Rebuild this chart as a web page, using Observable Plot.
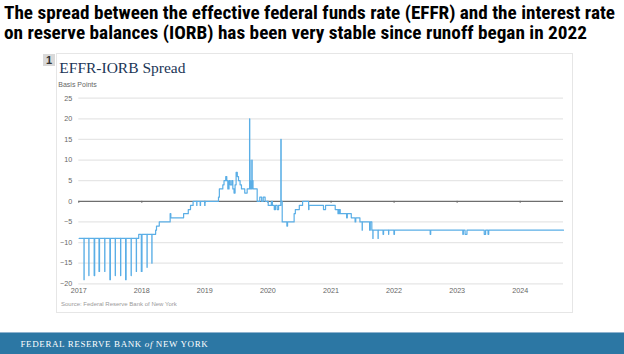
<!DOCTYPE html>
<html><head><meta charset="utf-8">
<script src="https://cdn.jsdelivr.net/npm/d3@7"></script>
<script src="https://cdn.jsdelivr.net/npm/@observablehq/plot@0.6"></script>
<style>
html,body{margin:0;padding:0;background:#fff;}
#wrap{position:relative;width:624px;height:354px;overflow:hidden;}
#chart,#overlay{position:absolute;left:0;top:0;}
</style></head><body>
<div id="wrap">
<div id="chart"></div>
<svg id="overlay" width="624" height="354" xmlns="http://www.w3.org/2000/svg">
  <rect x="56.5" y="53.5" width="516" height="259" fill="none" stroke="#e6e6e6"/>
  <rect x="43" y="54" width="12" height="12" fill="#d9d9d9"/>
  <text x="49" y="64" text-anchor="middle" font-family="Arial, Liberation Sans" font-weight="bold" font-size="11" fill="#333">1</text>
  <text x="4" y="19" font-family="'Liberation Sans Narrow', 'Roboto Condensed', Roboto" font-weight="bold" font-size="18" fill="#000" textLength="611" lengthAdjust="spacingAndGlyphs">The spread between the effective federal funds rate (EFFR) and the interest rate</text>
  <text x="4" y="39.4" font-family="'Liberation Sans Narrow', 'Roboto Condensed', Roboto" font-weight="bold" font-size="18" fill="#000" textLength="583" lengthAdjust="spacingAndGlyphs">on reserve balances (IORB) has been very stable since runoff began in 2022</text>
  <text x="59.3" y="73.3" font-family="Liberation Serif" font-size="15.5" fill="#1b3556">EFFR-IORB Spread</text>
  <text x="58.3" y="87" font-family="Arial, Liberation Sans" font-size="7" fill="#666">Basis Points</text>
  <text x="61" y="306" font-family="Arial, Liberation Sans" font-size="6" fill="#9a9a9a">Source: Federal Reserve Bank of New York</text>
  <rect x="0" y="332" width="624" height="22" fill="#2c77a4"/>
  <rect x="0" y="332" width="624" height="1" fill="#8fb3cf"/>
  <text x="20.5" y="347" font-family="Liberation Serif" font-size="9" fill="#fff" letter-spacing="0.6">FEDERAL RESERVE BANK <tspan font-style="italic">of</tspan> NEW YORK</text>
</svg>
</div>
<script>
// EFFR - IORB spread, basis points (change points; step chart)
const dates = [
  "2017-01-03","2017-01-31","2017-02-01","2017-02-28","2017-03-01","2017-03-31","2017-04-03",
  "2017-04-28","2017-05-01","2017-05-31","2017-06-01","2017-06-30","2017-07-03","2017-07-31",
  "2017-08-01","2017-08-31","2017-09-01","2017-09-29","2017-10-02","2017-10-31","2017-11-01",
  "2017-11-30","2017-12-01","2017-12-14","2017-12-29","2018-01-02","2018-01-31","2018-02-01",
  "2018-02-28","2018-03-01","2018-03-22","2018-03-27","2018-04-12","2018-06-14","2018-06-18",
  "2018-08-31","2018-09-27","2018-10-10","2018-10-25","2018-11-15","2018-11-16","2018-12-05",
  "2018-12-07","2018-12-31","2019-01-02",
  "2019-03-21","2019-03-26","2019-04-15","2019-04-22","2019-05-02","2019-05-08","2019-05-14",
  "2019-05-21","2019-05-28","2019-06-06","2019-06-12","2019-06-19","2019-06-25","2019-07-01",
  "2019-07-08","2019-07-15","2019-07-24","2019-08-01","2019-08-20","2019-09-03","2019-09-17",
  "2019-09-18","2019-09-20","2019-09-23","2019-09-30","2019-10-02","2019-10-07","2019-10-31",
  "2019-11-15","2019-11-26","2019-12-05","2019-12-16",
  "2020-01-03","2020-01-21","2020-01-27","2020-02-07","2020-02-14","2020-02-24","2020-03-03",
  "2020-03-16","2020-03-18","2020-03-24","2020-04-20","2020-04-24","2020-06-01","2020-06-08",
  "2020-07-01","2020-07-20","2020-08-24","2020-08-26","2020-11-18","2020-11-30",
  "2021-01-25","2021-02-10","2021-02-12","2021-02-16","2021-02-19","2021-02-23","2021-04-01",
  "2021-04-05","2021-04-28","2021-05-20","2021-05-24","2021-06-17","2021-06-30","2021-07-01",
  "2021-08-12","2021-08-16","2021-08-25","2021-08-31","2021-09-01","2021-09-30","2021-10-01",
  "2021-10-29","2021-11-01","2021-11-30","2021-12-01","2021-12-31","2022-01-03",
  "2022-07-29","2022-08-01","2023-02-03","2023-02-06","2023-02-16","2023-02-27",
  "2023-06-07","2023-06-15","2023-06-29","2023-07-03","2024-09-08"
];
const spread = [
  -9,-19,-9,-18,-9,-18,-9,
  -17,-9,-17,-9,-19,-9,-18,
  -9,-18,-9,-19,-9,-18,-9,
  -17,-9,-8,-17,-8,-16,-8,
  -15,-8,-7,-6,-5,-3,-4,
  -3,-2,-1,0,-1,0,-1,
  0,-1,0,
  1,3,4,5,6,5,3,
  5,4,5,3,2,4,7,
  6,5,4,3,2,3,20,
  10,5,3,10,5,3,0,
  1,0,1,0,
  -1,0,-1,-2,-1,-2,-1,
  15,0,-5,-6,-5,-3,-2,
  -1,0,-2,-1,-2,-1,
  -2,-3,-2,-3,-2,-3,-4,
  -3,-4,-5,-4,-5,-7,-5,
  -7,-5,-7,-9,-7,-9,-7,
  -8,-7,-8,-7,-8,-7,
  -8,-7,-8,-7,-8,-7,
  -8,-7,-8,-7,-7
];
const yTicks = [-20,-15,-10,-5,0,5,10,15,20,25];
const yearTicks = ["2017","2018","2019","2020","2021","2022","2023","2024"];

const data = dates.map((d, i) => ({date: new Date(d), value: spread[i]}));
const yearDates = yearTicks.map(y => new Date(`${y}-01-01`));

const chart = Plot.plot({
  width: 624,
  height: 354,
  marginLeft: 78.3,
  marginRight: 61,
  marginTop: 97.7,
  marginBottom: 70.7,
  style: {background: "transparent", fontFamily: "Arial, 'Liberation Sans', sans-serif", fontSize: "7.2px", color: "#666"},
  x: {type: "utc", domain: [new Date("2017-01-01"), new Date("2024-09-08")], ticks: yearDates, tickFormat: d3.utcFormat("%Y"), tickSize: 0, tickPadding: 4, label: null},
  y: {domain: [-20, 25], ticks: yTicks, tickSize: 0, tickPadding: 6.5, label: null},
  marks: [
    Plot.ruleY(yTicks.filter(d => d !== 0), {stroke: "#e6e6e6", strokeWidth: 1.2}),
    Plot.ruleY([0], {stroke: "#6e6e6e", strokeWidth: 1.2}),
    Plot.ruleX(yearDates, {y1: 0, y2: -0.5, stroke: "#6e6e6e"}),
    Plot.line(data, {x: "date", y: "value", curve: "step-after", stroke: "#5aaee6", strokeWidth: 1.2})
  ]
});
document.getElementById("chart").appendChild(chart);
</script>
</body></html>
